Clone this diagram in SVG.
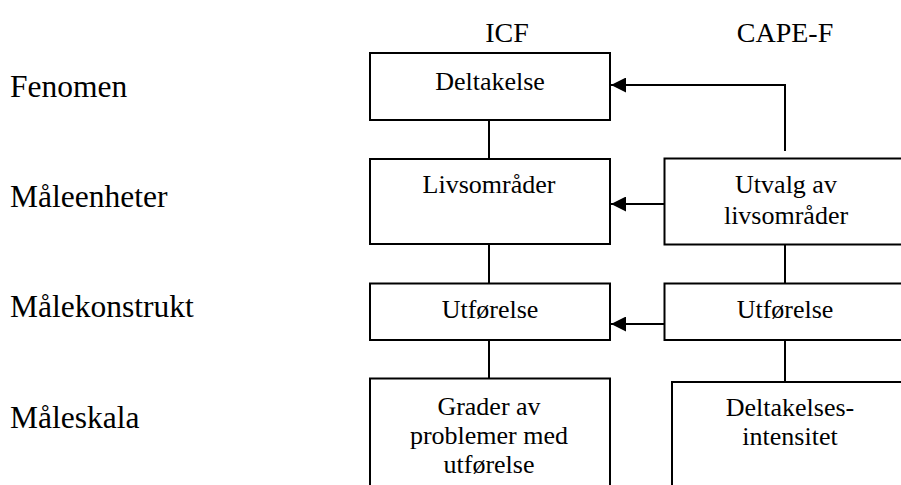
<svg xmlns="http://www.w3.org/2000/svg" width="901" height="485" viewBox="0 0 901 485">
<style>
  text { font-family: "Liberation Serif", Tinos, "Times New Roman", Times, "DejaVu Serif", serif; fill: #000; }
  .lbl { font-size: 31.5px; }
  .hdr { font-size: 28px; text-anchor: middle; }
  .bx { font-size: 26px; text-anchor: middle; }
  rect { fill: #fff; stroke: #000; stroke-width: 2; }
  .conn line, .conn polyline { stroke: #000; stroke-width: 2; fill: none; }
</style>
<defs>
  <marker id="ah" markerWidth="15" markerHeight="15" refX="15" refY="7.5" orient="auto" markerUnits="userSpaceOnUse">
    <path d="M0,0 L15,7.5 L0,15 Z" fill="#000"/>
  </marker>
</defs>
<rect x="0" y="0" width="901" height="485" style="fill:#fff;stroke:none"/>

<g id="row-labels">
  <text class="lbl" x="10" y="97">Fenomen</text>
  <text class="lbl" x="10" y="207">Måleenheter</text>
  <text class="lbl" x="10" y="317">Målekonstrukt</text>
  <text class="lbl" x="10" y="428">Måleskala</text>
</g>
<g id="col-headers">
  <text class="hdr" x="507" y="42">ICF</text>
  <text class="hdr" x="785" y="42">CAPE-F</text>
</g>

<g class="conn" id="connectors">
  <line x1="489" y1="120" x2="489" y2="159"/>
  <line x1="489" y1="244" x2="489" y2="283"/>
  <line x1="489" y1="340" x2="489" y2="378"/>
  <line x1="785" y1="244" x2="785" y2="283"/>
  <line x1="785" y1="340" x2="785" y2="382"/>
  <polyline points="785,151 785,85 611,85" marker-end="url(#ah)"/>
  <line x1="664" y1="204" x2="611" y2="204" marker-end="url(#ah)"/>
  <line x1="664" y1="324" x2="611" y2="324" marker-end="url(#ah)"/>
</g>

<g id="deltakelse">
  <rect x="370" y="53" width="240" height="67"/>
  <text class="bx" x="490" y="90">Deltakelse</text>
</g>
<g id="livsomrader">
  <rect x="370" y="159" width="240" height="85"/>
  <text class="bx" x="489" y="193">Livsområder</text>
</g>
<g id="utvalg">
  <rect x="664.5" y="158.5" width="245" height="86"/>
  <text class="bx" x="786" y="193">Utvalg av</text>
  <text class="bx" x="786" y="224">livsområder</text>
</g>
<g id="utforelse-icf">
  <rect x="370" y="283.5" width="240" height="56.5"/>
  <text class="bx" x="490" y="318">Utførelse</text>
</g>
<g id="utforelse-cape">
  <rect x="664.5" y="283.5" width="245" height="56.5"/>
  <text class="bx" x="785" y="318">Utførelse</text>
</g>
<g id="grader">
  <rect x="370" y="378.5" width="240" height="115"/>
  <text class="bx" x="489" y="415">Grader av</text>
  <text class="bx" x="489" y="444">problemer med</text>
  <text class="bx" x="489" y="473">utførelse</text>
</g>
<g id="intensitet">
  <rect x="672" y="382" width="240" height="115"/>
  <text class="bx" x="790" y="416">Deltakelses-</text>
  <text class="bx" x="790" y="445">intensitet</text>
</g>
</svg>
